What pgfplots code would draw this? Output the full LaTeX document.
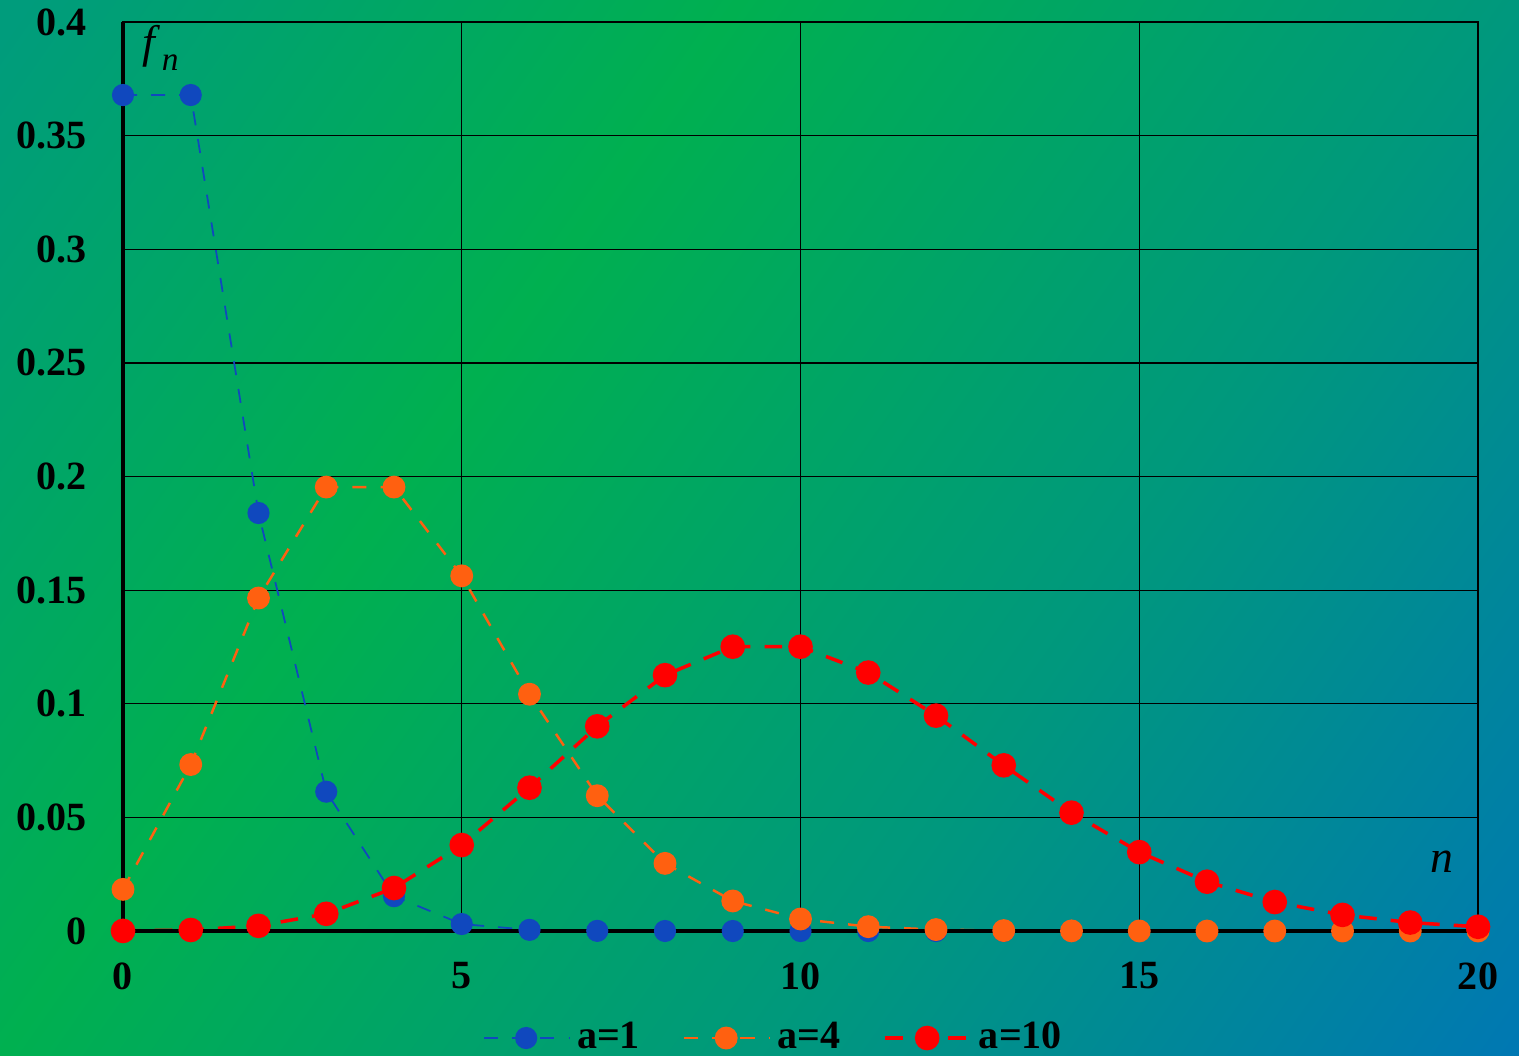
\documentclass[border=0pt]{standalone}
\usepackage{pgfplots}
\pgfplotsset{compat=1.18}
\usepackage{fontspec}
\setmainfont{Liberation Serif}
\definecolor{cblue}{RGB}{16,72,190}
\definecolor{corange}{RGB}{255,96,16}
\definecolor{cred}{RGB}{255,0,0}
\definecolor{bgA}{RGB}{0,156,124}
\definecolor{bgB}{RGB}{0,176,80}
\definecolor{bgC}{RGB}{0,152,125}
\definecolor{bgD}{RGB}{0,118,182}
\pgfdeclarehorizontalshading{bgshade}{100bp}{color(0bp)=(bgA); color(16bp)=(bgA); color(38bp)=(bgB); color(62bp)=(bgC); color(86bp)=(bgD); color(100bp)=(bgD)}
\pgfplotstableread{
n p1 p4 p10
0 0.36788 0.01832 0.0000454
1 0.36788 0.07326 0.000454
2 0.18394 0.14653 0.00227
3 0.06131 0.19537 0.00757
4 0.01533 0.19537 0.01892
5 0.00307 0.15629 0.03783
6 0.00051 0.10420 0.06306
7 0.00007 0.05954 0.09008
8 0.00001 0.02977 0.11260
9 0.0000 0.01323 0.12511
10 0.0000 0.00529 0.12511
11 0.0000 0.00192 0.11374
12 0.0000 0.00064 0.09478
13 0.0000 0.00020 0.07291
14 0.0000 0.00006 0.05208
15 0.0000 0.00002 0.03472
16 0.0000 0.00000 0.02170
17 0.0000 0.00000 0.01276
18 0.0000 0.00000 0.00709
19 0.0000 0.00000 0.00373
20 0.0000 0.00000 0.00187
}\data
\begin{document}
\begin{tikzpicture}
\shade[shading=bgshade, shading angle=-35] (0,0) rectangle (15.19,10.55);
\useasboundingbox (0,0) rectangle (15.19,10.55);
\begin{axis}[
  at={(1.23cm,1.24cm)}, anchor=south west,
  scale only axis, width=13.55cm, height=9.09cm,
  xmin=0, xmax=20, ymin=0, ymax=0.4,
  xtick={0,5,10,15,20},
  ytick={0,0.05,0.1,0.15,0.2,0.25,0.3,0.35,0.4},
  yticklabels={0,0.05,0.1,0.15,0.2,0.25,0.3,0.35,0.4},
  xticklabels={0,5,10,15,20},
  major tick length=0pt,
  grid=major,
  grid style={black, line width=0.35pt},
  axis line style={black, line width=0.4pt},
  tick label style={font=\bfseries\fontsize{11.4}{13}\selectfont, black},
  yticklabel style={xshift=-2.4mm},
  xticklabel style={yshift=-1.9mm},
  clip=false,
  legend style={at={(0.482,-0.1177)}, anchor=center, draw=none, fill=none,
    legend columns=3, font=\bfseries\fontsize{11.4}{13}\selectfont,
    /tikz/every even column/.append style={column sep=3.6mm}},
  legend image code/.code={
    \draw[#1] (0cm,0cm) -- (0.85cm,0cm);
    \draw[#1, solid] plot coordinates {(0.42cm,0cm)};
  },
]
\addplot[cblue, dash pattern=on 4pt off 4pt, line width=0.5pt, mark=*, mark size=2.9pt, mark options={solid, fill=cblue, draw=cblue}] table[x=n, y=p1] {\data};
\addlegendentry{a=1}
\addplot[corange, dash pattern=on 4pt off 4pt, line width=0.7pt, mark=*, mark size=2.9pt, mark options={solid, fill=corange, draw=corange}] table[x=n, y=p4] {\data};
\addlegendentry{a=4}
\addplot[cred, dash pattern=on 5pt off 4pt, line width=1pt, mark=*, mark size=3pt, mark options={solid, fill=cred, draw=cred}] table[x=n, y=p10] {\data};
\addlegendentry{a=10}
\draw[black, line width=1.1pt] (axis cs:0,0) -- (axis cs:0,0.4);
\draw[black, line width=1.1pt] (axis cs:0,0) -- (axis cs:20,0);
\node[font=\fontsize{13}{15}\selectfont] at (axis cs:0.55,0.3886) {\textit{f}\kern0.5pt\raisebox{-0.6ex}{\fontsize{9.5}{11}\selectfont\itshape n}};
\node[font=\itshape\fontsize{13}{15}\selectfont] at (axis cs:19.47,0.0304) {n};
\end{axis}
\end{tikzpicture}
\end{document}
